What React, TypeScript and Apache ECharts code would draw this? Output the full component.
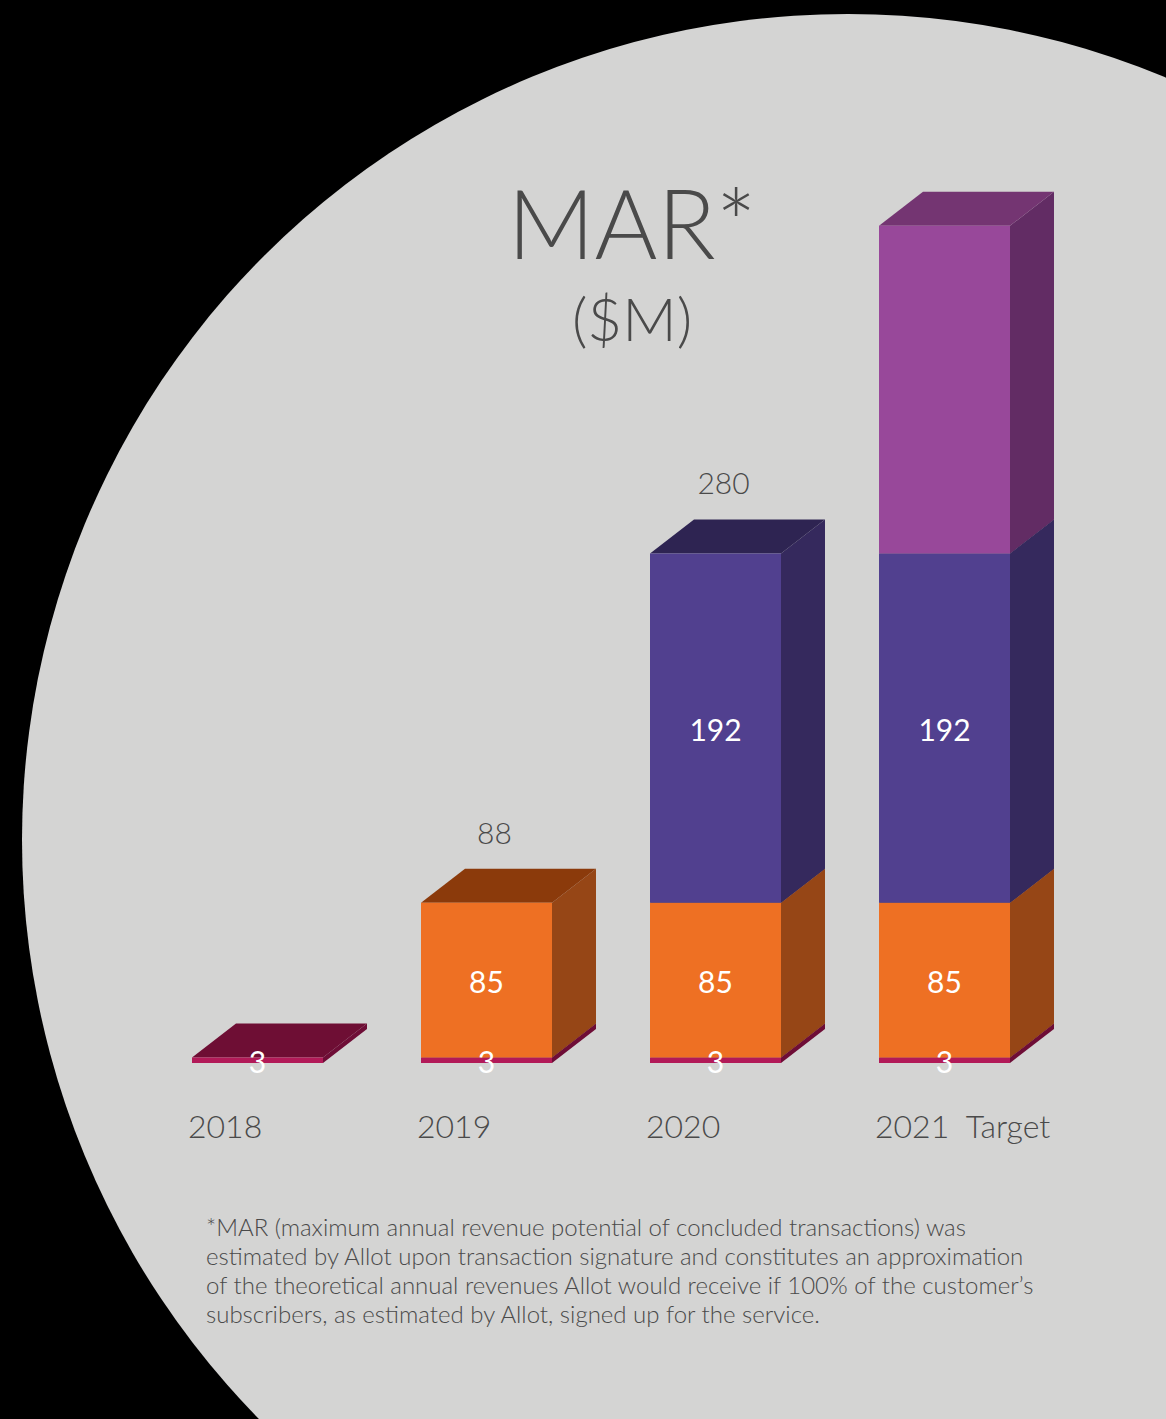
import React, { useEffect, useRef } from "react";
import * as echarts from "echarts";

// ---- data ----
const categories = ["2018", "2019", "2020", "2021  Target"];
const baseValues = [3, 3, 3, 3]; // bottom slab
const coreValues = [0, 85, 85, 85]; // orange
const growthValues = [0, 0, 192, 192]; // purple
const targetValues = [0, 0, 0, 180]; // magenta (unlabelled)
const totalLabelShown = [false, true, true, false];

const titleText = "MAR*";
const subtitleText = "($M)";
const footnoteLines = [
  "*MAR (maximum annual revenue potential of concluded transactions) was",
  "estimated by Allot upon transaction signature and constitutes an approximation",
  "of the theoretical annual revenues Allot would receive if 100% of the customer\u2019s",
  "subscribers, as estimated by Allot, signed up for the service.",
];

// ---- styles ----
const FONT = "Lato, 'Open Sans', sans-serif";
const TEXT_COLOR = "#4a4a4a";
const DX = 44;
const DY = 34;
const FRONT_RATIO = 131 / 229;

const segmentDefs = [
  { values: baseValues, front: "#b21a58", side: "#6e0d36", top: "#6e0e34", label: true },
  { values: coreValues, front: "#ee7023", side: "#964616", top: "#8b3a0b", label: true },
  { values: growthValues, front: "#51408f", side: "#35295d", top: "#2e2452", label: true },
  { values: targetValues, front: "#98489a", side: "#622c64", top: "#743572", label: false },
];

export default function App() {
  const ref = useRef<HTMLDivElement>(null);
  useEffect(() => {
    if (!ref.current) return;
    const chart = echarts.init(ref.current, null, { renderer: "svg" });

    // stacking
    const cum = categories.map(() => 0);
    const segData = segmentDefs.map((seg) =>
      seg.values.map((v, i) => {
        const start = cum[i];
        cum[i] += v;
        return [i, start, cum[i], v];
      })
    );
    const totals = cum.slice();

    const boxSeries = segmentDefs.map((seg, si) => ({
      type: "custom",
      z: 2,
      data: segData[si],
      renderItem: (params: any, api: any) => {
        const cat = api.value(0);
        const start = api.value(1);
        const end = api.value(2);
        if (end - start <= 0) return null;
        const b = api.coord([cat, start]);
        const t = api.coord([cat, end]);
        const w = api.size([1, 0])[0] * FRONT_RATIO;
        const x0 = b[0] - w / 2;
        const x1 = b[0] + w / 2;
        const yb = b[1];
        const yt = t[1];
        return {
          type: "group",
          children: [
            {
              type: "polygon",
              shape: { points: [[x1, yt], [x1 + DX, yt - DY], [x1 + DX, yb - DY], [x1, yb]] },
              style: { fill: seg.side },
            },
            {
              type: "polygon",
              shape: { points: [[x0, yt], [x0 + DX, yt - DY], [x1 + DX, yt - DY], [x1, yt]] },
              style: { fill: seg.top },
            },
            {
              type: "rect",
              shape: { x: x0, y: yt, width: w, height: yb - yt },
              style: { fill: seg.front },
            },
          ],
        };
      },
    }));

    const labelData: number[][] = [];
    segmentDefs.forEach((seg, si) => {
      if (!seg.label) return;
      segData[si].forEach((d) => {
        if (d[3] > 0) labelData.push(d);
      });
    });

    const labelSeries = {
      type: "custom",
      z: 5,
      data: labelData,
      renderItem: (params: any, api: any) => {
        const cat = api.value(0);
        const mid = (api.value(1) + api.value(2)) / 2;
        const p = api.coord([cat, mid]);
        return {
          type: "text",
          x: p[0],
          y: p[1] + 1,
          style: {
            text: String(api.value(3)),
            fill: "#ffffff",
            font: `30px ${FONT}`,
            textAlign: "center",
            textVerticalAlign: "middle",
          },
        };
      },
    };

    const totalSeries = {
      type: "custom",
      z: 5,
      data: totals.map((v, i) => [i, v, totalLabelShown[i] ? 1 : 0]),
      renderItem: (params: any, api: any) => {
        if (!api.value(2)) return null;
        const p = api.coord([api.value(0), api.value(1)]);
        return {
          type: "text",
          x: p[0] + 8,
          y: p[1] - DY - 37,
          style: {
            text: String(api.value(1)),
            fill: TEXT_COLOR,
            font: `300 30px ${FONT}`,
            textAlign: "center",
            textVerticalAlign: "middle",
          },
        };
      },
    };

    const catSeries = {
      type: "custom",
      z: 5,
      data: categories.map((c, i) => [i, 0]),
      renderItem: (params: any, api: any) => {
        const i = api.value(0);
        const p = api.coord([i, 0]);
        const w = api.size([1, 0])[0] * FRONT_RATIO;
        return {
          type: "text",
          x: p[0] - w / 2 - 4,
          y: p[1] + 62,
          style: {
            text: categories[i],
            fill: TEXT_COLOR,
            font: `300 32px ${FONT}`,
            textAlign: "left",
            textVerticalAlign: "middle",
          },
        };
      },
    };

    const footnoteGraphics = footnoteLines.map((line, i) => ({
      type: "text",
      z: 10,
      x: 206,
      y: 1226 + i * 29,
      style: {
        text: line,
        fill: TEXT_COLOR,
        font: `300 24px ${FONT}`,
        textAlign: "left",
        textVerticalAlign: "middle",
      },
    }));

    chart.setOption({
      animation: false,
      backgroundColor: "#000000",
      grid: { left: 143, width: 916, top: 153, height: 910 },
      xAxis: { type: "category", data: categories, show: false },
      yAxis: { type: "value", min: 0, max: 500, show: false },
      graphic: [
        {
          type: "circle",
          z: 0,
          shape: { cx: 848, cy: 840, r: 826 },
          style: { fill: "#d4d4d3" },
        },
        {
          type: "text",
          z: 10,
          x: 632,
          y: 221,
          style: {
            text: titleText,
            fill: TEXT_COLOR,
            font: `300 96px ${FONT}`,
            textAlign: "center",
            textVerticalAlign: "middle",
          },
        },
        {
          type: "text",
          z: 10,
          x: 632,
          y: 318,
          style: {
            text: subtitleText,
            fill: TEXT_COLOR,
            font: `300 60px ${FONT}`,
            textAlign: "center",
            textVerticalAlign: "middle",
          },
        },
        ...footnoteGraphics,
      ],
      series: [...boxSeries, labelSeries, totalSeries, catSeries],
    });
    return () => chart.dispose();
  }, []);
  return (
    <div
      ref={ref}
      style={{ position: "absolute", left: 0, top: 0, width: 1166, height: 1419 }}
    />
  );
}
